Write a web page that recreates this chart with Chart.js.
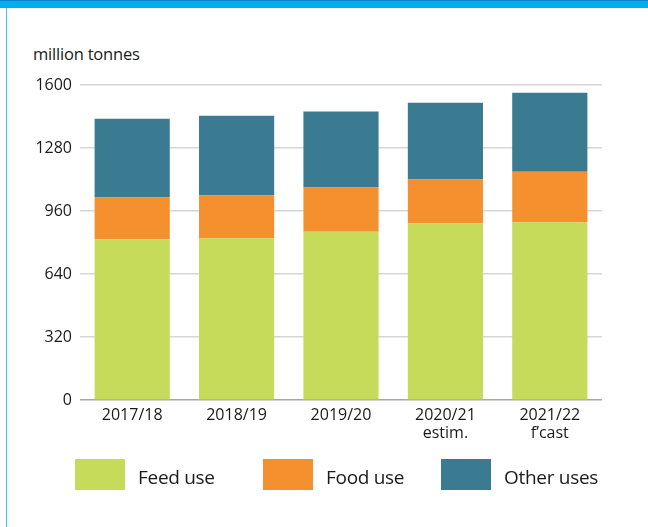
<!DOCTYPE html>
<html>
<head>
<meta charset="utf-8">
<script src="https://cdn.jsdelivr.net/npm/chart.js@4/dist/chart.umd.min.js"></script>
<style>
  body { margin: 0; background: #fff; font-family: "Open Sans", sans-serif; }
  #wrap { position: relative; width: 648px; height: 527px; overflow: hidden; }
  #band { position: absolute; left: 0; top: 0; width: 648px; height: 8px; background: #00aeef; border-top: 1px solid #0a86c4; box-sizing: border-box; }
  #edge { position: absolute; left: 6px; top: 8px; width: 1px; height: 519px; background: #3fc3f2; }
  #unit { position: absolute; left: 33px; top: 42px; font-size: 16.5px; color: #1a1a1a; letter-spacing: -0.2px; }
  .leg { position: absolute; top: 459px; height: 31px; font-size: 19px; line-height: 37px; color: #1a1a1a; letter-spacing: -0.3px; }
  .leg span { position: absolute; left: 0; top: 0; width: 50px; height: 31px; }
  canvas { position: absolute; left: 0; top: 0; }
</style>
</head>
<body>
<div id="wrap">
  <div id="band"></div>
  <div id="edge"></div>
  <div id="unit">million tonnes</div>
  <canvas id="useChart" width="648" height="527"></canvas>
  <div id="legend"></div>
</div>
<script>
// values, million tonnes
const seasons = [["2017/18"], ["2018/19"], ["2019/20"], ["2020/21", "estim."], ["2021/22", "f\u2019cast"]];
const feedUse = [815, 820, 855, 896, 901];
const foodUse = [213, 219, 224, 224, 259];
const otherUses = [401, 405, 386, 390, 401];
const yTicks = [0, 320, 640, 960, 1280, 1600];

const seriesNames = ["Feed use", "Food use", "Other uses"];
const seriesColors = ["#c6db5a", "#f5902e", "#3a7b92"];
const legendLeft = [75, 263, 441];

const ctx = document.getElementById("useChart");
const useChart = new Chart(ctx, {
    type: "bar",
    data: {
        labels: seasons,
        datasets: [feedUse, foodUse, otherUses].map((vals, i) => ({
            label: seriesNames[i],
            data: vals,
            backgroundColor: seriesColors[i],
            borderWidth: 0,
            categoryPercentage: 1,
            barPercentage: 0.72,
        })),
    },
    options: {
        responsive: false,
        animation: false,
        layout: { padding: { left: 33, right: 46, top: 85, bottom: 82 } },
        plugins: {
            legend: { display: false },
            tooltip: { enabled: false },
        },
        scales: {
            x: {
                stacked: true,
                grid: { display: false },
                border: { display: false },
                ticks: {
                    color: "#1a1a1a",
                    padding: -1,
                    font: { family: "Open Sans", size: 16, lineHeight: 1.1 },
                    maxRotation: 0,
                },
                afterFit: (scale) => { scale.height = 45; },
            },
            y: {
                stacked: true,
                min: 0,
                max: 1600,
                afterBuildTicks: (scale) => { scale.ticks = yTicks.map(v => ({ value: v })); },
                border: { display: false },
                grid: {
                    drawTicks: false,
                    lineWidth: 1.5,
                    color: (c) => c.tick && c.tick.value === 0 ? "#a8a8a8" : "#d6d6d6",
                },
                ticks: {
                    color: "#1a1a1a",
                    padding: 8,
                    font: { family: "Open Sans", size: 16 },
                    callback: (v) => String(v),
                },
                afterFit: (scale) => { scale.width = 47; },
            },
        },
    },
});

// legend drawn as html next to the chart
const legendEl = document.getElementById("legend");
useChart.data.datasets.forEach((ds, i) => {
    const item = document.createElement("div");
    item.className = "leg";
    item.style.left = legendLeft[i] + "px";
    item.style.paddingLeft = "63px";
    item.innerHTML = '<span style="background:' + ds.backgroundColor + '"></span>' + ds.label;
    legendEl.appendChild(item);
});
</script>
</body>
</html>
